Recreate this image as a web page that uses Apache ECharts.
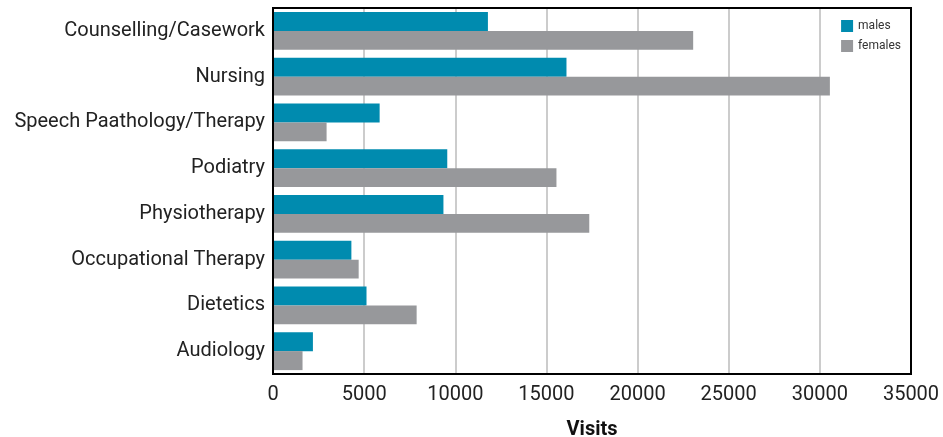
<!DOCTYPE html>
<html><head><meta charset="utf-8">
<script src="https://cdn.jsdelivr.net/npm/echarts@6/dist/echarts.min.js"></script>
<style>html,body{margin:0;padding:0;background:#fff}#c{width:943px;height:437px}</style>
</head><body><div id="c"></div>
<script>
var categories = ["Counselling/Casework","Nursing","Speech Paathology/Therapy","Podiatry","Physiotherapy","Occupational Therapy","Dietetics","Audiology"];
var males = [11790, 16100, 5850, 9560, 9350, 4300, 5130, 2190];
var females = [23050, 30550, 2940, 15550, 17350, 4700, 7880, 1620];
var FONT = "Roboto";
var chart = echarts.init(document.getElementById('c'));
chart.setOption({
  animation:false,
  textStyle:{fontFamily:FONT},
  grid:{left:273,right:32,top:8,bottom:63,containLabel:false,outerBoundsMode:'none',show:true,borderColor:'#000',borderWidth:2,backgroundColor:'transparent',z:5},
  legend:{orient:'vertical',right:37,top:15,itemWidth:12,itemHeight:12,itemGap:8,icon:'rect',
    textStyle:{fontSize:12,color:'#333',fontFamily:FONT},data:['males','females']},
  xAxis:{type:'value',min:0,max:35000,interval:5000,name:'Visits',nameLocation:'middle',nameGap:46,
    nameTextStyle:{fontSize:20,fontWeight:'bold',color:'#111',fontFamily:FONT},
    axisLine:{show:true,lineStyle:{color:'#000',width:2}},axisTick:{show:false},
    axisLabel:{fontSize:20,color:'#222',margin:11,fontFamily:FONT,formatter:function(v){return String(v);}},
    splitLine:{show:true,lineStyle:{color:'#bbb',width:1.5}}},
  yAxis:{type:'category',data:categories,inverse:true,
    axisLine:{show:true,lineStyle:{color:'#000',width:2}},axisTick:{show:false},
    axisLabel:{fontSize:20,color:'#222',margin:8,fontFamily:FONT,padding:[6,0,0,0]}},
  series:[
    {name:'males',type:'bar',data:males,barGap:'0%',barCategoryGap:'17%',itemStyle:{color:'#008BAF'}},
    {name:'females',type:'bar',data:females,barGap:'0%',barCategoryGap:'17%',itemStyle:{color:'#97989B'}}
  ]
});
</script></body></html>
